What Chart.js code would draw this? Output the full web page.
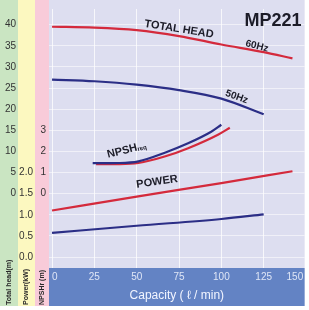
<!DOCTYPE html>
<html>
<head>
<meta charset="utf-8">
<script src="https://cdn.jsdelivr.net/npm/chart.js@4/dist/chart.umd.min.js"></script>
<style>
  html, body { margin: 0; padding: 0; background: #fff; }
  #wrap { width: 309px; height: 310px; }
</style>
</head>
<body>
<div id="wrap"><canvas id="pumpChart" width="309" height="310"></canvas></div>
<script>
// capacity (l/min) and values
const capHead60 = [0, 25, 50, 75, 100, 125, 142];
const head60 = [39.5, 39.3, 38.7, 37.3, 35.3, 33.5, 32.0];
const capHead50 = [0, 25, 50, 75, 100, 125];
const head50 = [27.0, 26.6, 25.8, 24.5, 22.5, 18.8];

const capNpsh50 = [24, 40, 51, 67, 80, 94, 100];
const npsh50 = [1.44, 1.45, 1.53, 1.95, 2.37, 2.93, 3.26];
const capNpsh60 = [26, 40, 51, 67, 80, 98, 105];
const npsh60 = [1.40, 1.40, 1.45, 1.77, 2.14, 2.79, 3.12];

const capPower60 = [0, 50, 100, 142];
const power60 = [1.10, 1.43, 1.75, 2.03];
const capPower50 = [0, 50, 100, 125];
const power50 = [0.57, 0.74, 0.90, 1.01];

const capTicks = [0, 25, 50, 75, 100, 125, 150];
const headTicks = [-15, -10, -5, 0, 5, 10, 15, 20, 25, 30, 35, 40];
const powerTicks = [0, 0.5, 1.0, 1.5, 2.0];
const npshTicks = [0, 1, 2, 3];

const RED = '#d42a3c';
const BLUE = '#2b2e86';

function pts(xs, ys) {
    return xs.map((x, i) => ({ x: x, y: ys[i] }));
}

function line(label, xs, ys, color, axis) {
    return {
        label: label,
        data: pts(xs, ys),
        borderColor: color,
        borderWidth: 2.2,
        pointRadius: 0,
        fill: false,
        cubicInterpolationMode: 'monotone',
        yAxisID: axis
    };
}

// backgrounds: coloured axis columns, plot area, blue capacity band
const bgPlugin = {
    id: 'bg',
    beforeDraw(chart) {
        const c = chart.ctx;
        const a = chart.chartArea;
        const s = chart.scales;
        c.save();
        c.fillStyle = '#fff';
        c.fillRect(0, 0, chart.width, chart.height);
        c.fillStyle = '#cae5c2';
        c.fillRect(s.yHead.left, 0, s.yHead.right - s.yHead.left, 306);
        c.fillStyle = '#fcf8c0';
        c.fillRect(s.yPower.left, 0, s.yPower.right - s.yPower.left, 306);
        c.fillStyle = '#f8cbd9';
        c.fillRect(s.yNpsh.left, 0, s.yNpsh.right - s.yNpsh.left, 306);
        c.fillStyle = '#dddef0';
        c.fillRect(a.left, 0, a.right - a.left, a.bottom);
        c.fillStyle = '#6383c4';
        c.fillRect(a.left, a.bottom, a.right - a.left, 306 - a.bottom);
        c.restore();
    },
    afterDatasetsDraw(chart) {
        const c = chart.ctx;
        const x = chart.scales.x;
        const y = chart.scales.yHead;
        const put = (txt, q, h, deg, font) => {
            c.save();
            c.translate(x.getPixelForValue(q), y.getPixelForValue(h));
            c.rotate(deg * Math.PI / 180);
            c.font = font;
            c.fillStyle = '#1c1c28';
            c.textAlign = 'center';
            c.textBaseline = 'middle';
            c.fillText(txt, 0, 0);
            c.restore();
        };
        put('MP221', 130.5, 40.9, 0, 'bold 18px "Liberation Sans"');
        put('TOTAL HEAD', 75, 38.9, 9, 'bold 11px "Liberation Sans Narrow", "Liberation Sans"');
        put('60Hz', 121, 34.9, 14, 'bold 10px "Liberation Sans Narrow", "Liberation Sans"');
        put('50Hz', 109, 22.9, 20, 'bold 10px "Liberation Sans Narrow", "Liberation Sans"');
        put('POWER', 62, 2.8, -8, 'bold 11px "Liberation Sans Narrow", "Liberation Sans"');

        // NPSHreq with small subscript
        c.save();
        c.translate(x.getPixelForValue(43), y.getPixelForValue(10.2));
        c.rotate(-14 * Math.PI / 180);
        c.fillStyle = '#1c1c28';
        c.textBaseline = 'middle';
        c.font = 'bold 11px "Liberation Sans Narrow", "Liberation Sans"';
        const w = c.measureText('NPSH').width;
        c.fillText('NPSH', -18, 0);
        c.font = 'bold 6px "Liberation Sans Narrow", "Liberation Sans"';
        c.fillText('req', -18 + w, 2);
        c.restore();

        // rotated axis titles at the foot of each column
        const s = chart.scales;
        const title = (txt, sc) => {
            c.save();
            c.translate((sc.left + sc.right) / 2, 305);
            c.rotate(-Math.PI / 2);
            c.font = 'bold 7px "Liberation Sans Narrow", "Liberation Sans"';
            c.fillStyle = '#2a2a2a';
            c.textAlign = 'left';
            c.textBaseline = 'middle';
            c.fillText(txt, 0, 0);
            c.restore();
        };
        title('Total head(m)', s.yHead);
        title('Power(kW)', s.yPower);
        title('NPSHr (m)', s.yNpsh);
    }
};

const tickFont = { family: '"Liberation Sans Narrow", "Liberation Sans"', size: 10 };

const config = {
    type: 'line',
    data: {
        datasets: [
            line('Head 60Hz', capHead60, head60, RED, 'yHead'),
            line('Head 50Hz', capHead50, head50, BLUE, 'yHead'),
            line('NPSHreq 50Hz', capNpsh50, npsh50, BLUE, 'yNpsh'),
            line('NPSHreq 60Hz', capNpsh60, npsh60, RED, 'yNpsh'),
            line('Power 60Hz', capPower60, power60, RED, 'yPower'),
            line('Power 50Hz', capPower50, power50, BLUE, 'yPower')
        ]
    },
    options: {
        responsive: false,
        animation: false,
        layout: { padding: { top: 3, right: 1, bottom: 4, left: 0 } },
        plugins: {
            legend: { display: false },
            tooltip: { enabled: false }
        },
        scales: {
            x: {
                type: 'linear',
                min: -1.8,
                max: 149.2,
                afterBuildTicks: (sc) => { sc.ticks = capTicks.map(v => ({ value: v })); },
                afterFit: (sc) => { sc.height = 38; },
                grid: { color: 'rgba(255,255,255,0.75)', drawTicks: false },
                border: { display: false },
                ticks: {
                    color: '#dfe6f6',
                    font: tickFont,
                    padding: 3,
                    align: 'inner',
                    maxRotation: 0,
                    callback: (v) => (v === 150 ? '150 ' : v)
                },
                title: {
                    display: true,
                    text: 'Capacity ( ℓ / min)',
                    color: '#f2f5ff',
                    font: { family: '"Liberation Sans"', size: 12 },
                    padding: { top: 2, bottom: 3 }
                }
            },
            yHead: {
                position: 'left',
                weight: 3,
                min: -17.6,
                max: 43.7,
                afterBuildTicks: (sc) => { sc.ticks = headTicks.map(v => ({ value: v })); },
                afterFit: (sc) => { sc.width = 18; },
                grid: { color: 'rgba(255,255,255,0.55)', drawTicks: false },
                border: { display: false },
                ticks: {
                    color: '#333',
                    font: tickFont,
                    padding: 2,
                    callback: (v) => (v >= 0 ? v : '')
                }
            },
            yPower: {
                position: 'left',
                weight: 2,
                min: -0.26,
                max: 5.87,
                afterBuildTicks: (sc) => { sc.ticks = powerTicks.map(v => ({ value: v })); },
                afterFit: (sc) => { sc.width = 17; },
                grid: { display: false, drawTicks: false },
                border: { display: false },
                ticks: { color: '#333', font: tickFont, padding: 2, callback: (v) => v.toFixed(1) }
            },
            yNpsh: {
                position: 'left',
                weight: 1,
                min: -3.52,
                max: 8.74,
                afterBuildTicks: (sc) => { sc.ticks = npshTicks.map(v => ({ value: v })); },
                afterFit: (sc) => { sc.width = 14; },
                grid: { display: false, drawTicks: false },
                border: { display: false },
                ticks: { color: '#333', font: tickFont, padding: 3 }
            }
        }
    },
    plugins: [bgPlugin]
};

window.onload = function() {
    const ctx = document.getElementById('pumpChart').getContext('2d');
    new Chart(ctx, config);
};
</script>
</body>
</html>
